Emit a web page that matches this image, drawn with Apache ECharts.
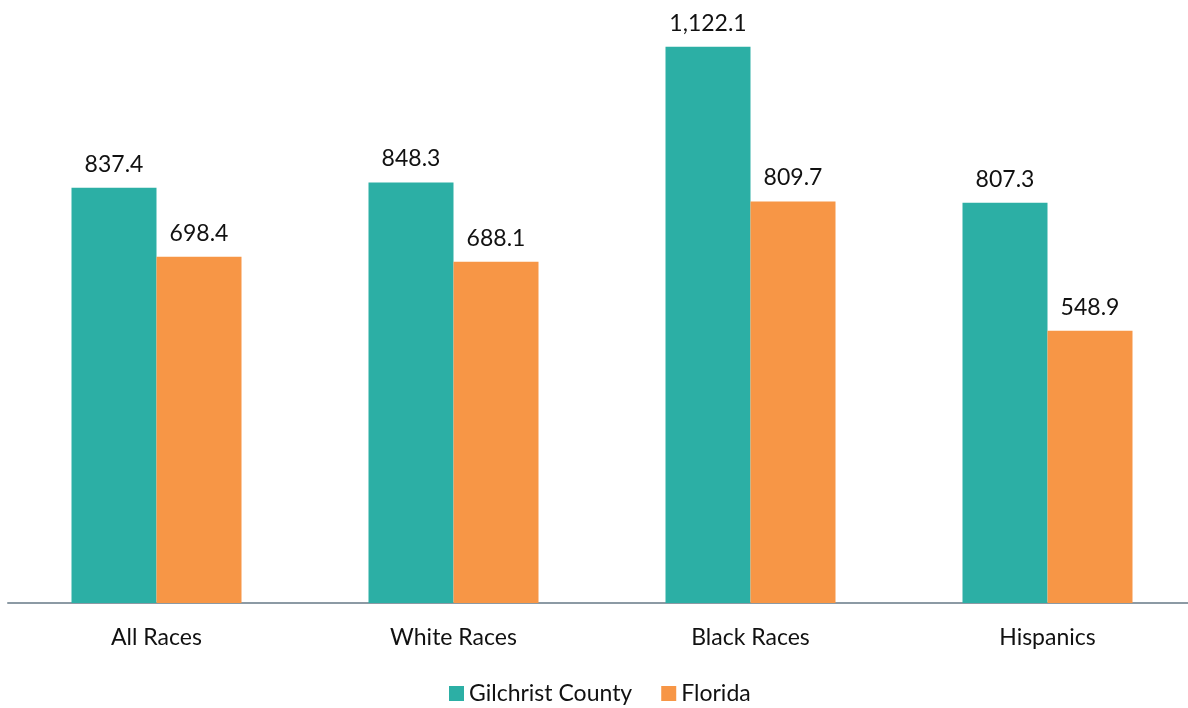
<!DOCTYPE html>
<html>
<head>
<meta charset="utf-8">
<script src="https://cdn.jsdelivr.net/npm/echarts@6/dist/echarts.min.js"></script>
<style>
  html, body { margin: 0; padding: 0; background: #fff; overflow: hidden; }
  #chart { width: 1196px; height: 708px; }
</style>
</head>
<body>
<div id="chart"></div>
<script>
  var categories = ['All Races', 'White Races', 'Black Races', 'Hispanics'];
  var gilchrist = [837.4, 848.3, 1122.1, 807.3];
  var florida = [698.4, 688.1, 809.7, 548.9];

  var fmt = function (p) {
    return p.value.toLocaleString('en-US', { minimumFractionDigits: 1, maximumFractionDigits: 1 });
  };
  var font = 'Lato, "Open Sans", sans-serif';

  var chart = echarts.init(document.getElementById('chart'));
  chart.setOption({
    animation: false,
    textStyle: { fontFamily: font },
    legend: {
      top: 677,
      left: 444,
      itemWidth: 15,
      itemHeight: 15,
      itemGap: 29,
      itemTextGap: 6,
      icon: 'rect',
      textStyle: { fontSize: 23, color: '#111', fontFamily: font },
      data: ['Gilchrist County', 'Florida']
    },
    grid: { left: 8, right: 0, top: 8, bottom: 105 },
    xAxis: {
      type: 'category',
      data: categories,
      axisLine: { lineStyle: { color: '#8c9aa4', width: 2 } },
      axisTick: { show: false },
      axisLabel: { fontSize: 23, color: '#111', margin: 23, fontFamily: font }
    },
    yAxis: {
      type: 'value',
      min: 0,
      max: 1200,
      show: false,
      splitLine: { show: false }
    },
    series: [
      {
        name: 'Gilchrist County',
        type: 'bar',
        data: gilchrist,
        barWidth: 85,
        barGap: '0%',
        itemStyle: { color: '#2cafa5' },
        label: { show: true, position: 'top', distance: 12, fontSize: 23, color: '#111', formatter: fmt, fontFamily: font }
      },
      {
        name: 'Florida',
        type: 'bar',
        data: florida,
        barWidth: 85,
        barGap: '0%',
        itemStyle: { color: '#f79646' },
        label: { show: true, position: 'top', distance: 12, fontSize: 23, color: '#111', formatter: fmt, fontFamily: font }
      }
    ]
  });
</script>
</body>
</html>
